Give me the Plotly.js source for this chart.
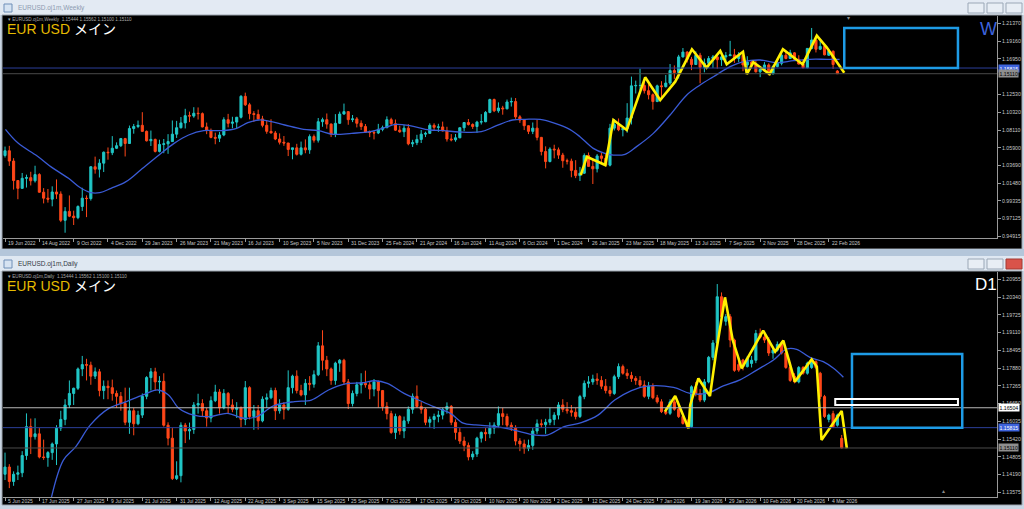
<!DOCTYPE html>
<html><head><meta charset="utf-8">
<script src="https://cdn.plot.ly/plotly-3.0.1.min.js"></script>
<style>html,body{margin:0;padding:0;background:#ccd6e2;overflow:hidden}#chart{width:1024px;height:509px}</style>
</head><body><div id="chart"></div>
<script>
// ---------- Weekly (EURUSD W1), bar 0 = week of 19 Jun 2022 ----------
const weeklyOpen=[1.0495,1.0554,1.0426,1.0184,1.0087,1.0212,1.0220,1.0181,1.0258,1.0039,0.9965,0.9953,1.0042,1.0016,0.9690,0.9801,0.9742,0.9723,0.9862,0.9965,
0.9960,1.0355,1.0325,1.0400,1.0536,1.0530,1.0585,1.0617,1.0705,1.0644,1.0830,1.0855,1.0870,1.0795,1.0678,1.0695,1.0546,1.0633,1.0640,1.0668,
1.0760,1.0840,1.0900,1.0990,1.0985,1.1020,1.1015,1.0850,1.0805,1.0720,1.0710,1.0750,1.0940,1.0895,1.0910,1.0970,1.1230,1.1125,1.1015,1.1005,
1.0950,1.0870,1.0795,1.0775,1.0700,1.0660,1.0650,1.0570,1.0590,1.0510,1.0590,1.0565,1.0730,1.0685,1.0915,1.0940,1.0885,1.0760,1.0895,1.1010,
1.1040,1.0940,1.0950,1.0895,1.0855,1.0785,1.0780,1.0775,1.0820,1.0840,1.0940,1.0890,1.0810,1.0790,1.0835,1.0640,1.0655,1.0695,1.0760,1.0770,
1.0870,1.0845,1.0850,1.0800,1.0700,1.0690,1.0715,1.0840,1.0905,1.0880,1.0855,1.0910,1.0915,1.1030,1.1190,1.1050,1.1085,1.1075,1.1160,1.1165,
1.0975,1.0935,1.0865,1.0795,1.0835,1.0720,1.0545,1.0420,1.0575,1.0565,1.0500,1.0430,1.0425,1.0310,1.0245,1.0275,1.0495,1.0360,1.0330,1.0490,
1.0460,1.0375,1.0835,1.0880,1.0815,1.0830,1.0960,1.1360,1.1365,1.1365,1.1300,1.1250,1.1165,1.1360,1.1350,1.1395,1.1550,1.1525,1.1720,1.1780,
1.1690,1.1625,1.1740,1.1590,1.1640,1.1700,1.1720,1.1685,1.1720,1.1735,1.1745,1.1700,1.1740,1.1620,1.1655,1.1625,1.1535,1.1565,1.1620,1.1510,
1.1600,1.1640,1.1740,1.1700,1.1770,1.1690,1.1631,1.1585,1.1825,1.1930,1.1815,1.1850,1.1740,1.1790,1.15444];
const weeklyHigh=[1.0606,1.0615,1.0462,1.0186,1.0278,1.0257,1.0293,1.0368,1.0275,1.0090,1.0079,1.0112,1.0198,1.0050,0.9854,0.9999,0.9810,0.9876,1.0094,1.0000,
1.0364,1.0481,1.0449,1.0545,1.0595,1.0736,1.0658,1.0713,1.0714,1.0867,1.0887,1.0929,1.1033,1.0806,1.0805,1.0705,1.0691,1.0700,1.0760,1.0930,
1.0925,1.0973,1.1075,1.1040,1.1095,1.1092,1.1030,1.0904,1.0830,1.0779,1.0788,1.0970,1.1012,1.0976,1.0975,1.1245,1.1276,1.1149,1.1046,1.1065,
1.0988,1.0930,1.0945,1.0800,1.0770,1.0737,1.0652,1.0580,1.0640,1.0668,1.0695,1.0757,1.0756,1.0961,1.0965,1.1017,1.0894,1.1009,1.1040,1.1140,
1.1046,1.0998,1.0973,1.0932,1.0886,1.0806,1.0805,1.0888,1.0866,1.0981,1.0964,1.0942,1.0865,1.0876,1.0885,1.0690,1.0752,1.0812,1.0791,1.0895,
1.0895,1.0889,1.0916,1.0852,1.0761,1.0762,1.0844,1.0910,1.0948,1.0895,1.0926,1.1009,1.1047,1.1201,1.1202,1.1155,1.1112,1.1190,1.1214,1.1209,
1.0996,1.0944,1.0869,1.0905,1.0937,1.0726,1.0609,1.0597,1.0629,1.0594,1.0528,1.0456,1.0456,1.0437,1.0353,1.0521,1.0533,1.0442,1.0513,1.0528,
1.0528,1.0888,1.0947,1.0955,1.0860,1.1145,1.1475,1.1425,1.1573,1.1425,1.1380,1.1266,1.1375,1.1418,1.1495,1.1631,1.1614,1.1745,1.1830,1.1790,
1.1720,1.1789,1.1770,1.1699,1.1730,1.1743,1.1743,1.1780,1.1780,1.1919,1.1819,1.1779,1.1745,1.1728,1.1670,1.1669,1.1568,1.1655,1.1640,1.1612,
1.1680,1.1760,1.1800,1.1808,1.1780,1.1740,1.1690,1.1830,1.2079,1.1950,1.1925,1.1870,1.1815,1.1800,1.15562];
const weeklyLow=[1.0470,1.0366,1.0072,0.9952,1.0080,1.0097,1.0123,1.0159,1.0033,0.9900,0.9910,0.9864,0.9956,0.9668,0.9536,0.9730,0.9632,0.9704,0.9807,0.9730,
0.9935,1.0270,1.0222,1.0290,1.0443,1.0500,1.0575,1.0600,1.0483,1.0644,1.0766,1.0835,1.0789,1.0669,1.0613,1.0533,1.0533,1.0524,1.0516,1.0667,
1.0713,1.0830,1.0831,1.0910,1.0964,1.0942,1.0845,1.0760,1.0709,1.0635,1.0662,1.0735,1.0844,1.0834,1.0834,1.0955,1.1110,1.0944,1.0912,1.0941,
1.0845,1.0765,1.0770,1.0686,1.0632,1.0615,1.0488,1.0448,1.0495,1.0495,1.0523,1.0516,1.0655,1.0656,1.0852,1.0828,1.0724,1.0723,1.0888,1.1002,
1.0877,1.0910,1.0844,1.0813,1.0777,1.0723,1.0695,1.0761,1.0796,1.0835,1.0873,1.0802,1.0777,1.0724,1.0622,1.0601,1.0624,1.0650,1.0724,1.0763,
1.0804,1.0788,1.0795,1.0668,1.0671,1.0666,1.0710,1.0797,1.0867,1.0825,1.0777,1.0880,1.0908,1.1020,1.1034,1.1026,1.1002,1.1068,1.1103,1.0950,
1.0900,1.0811,1.0761,1.0761,1.0683,1.0496,1.0335,1.0410,1.0460,1.0453,1.0343,1.0384,1.0225,1.0214,1.0178,1.0266,1.0358,1.0141,1.0285,1.0401,
1.0360,1.0360,1.0806,1.0797,1.0733,1.0778,1.0880,1.1265,1.1306,1.1265,1.1192,1.1065,1.1158,1.1210,1.1340,1.1373,1.1446,1.1452,1.1712,1.1650,
1.1555,1.1620,1.1392,1.1528,1.1585,1.1583,1.1574,1.1608,1.1660,1.1730,1.1646,1.1655,1.1542,1.1557,1.1577,1.1525,1.1468,1.1535,1.1491,1.1500,
1.1590,1.1615,1.1690,1.1695,1.1685,1.1625,1.1579,1.1580,1.1815,1.1775,1.1805,1.1740,1.1735,1.1570,1.15100];
const weeklyClose=[1.0554,1.0426,1.0184,1.0087,1.0212,1.0220,1.0181,1.0258,1.0039,0.9965,0.9953,1.0042,1.0016,0.9690,0.9801,0.9742,0.9723,0.9862,0.9965,0.9960,
1.0355,1.0325,1.0400,1.0536,1.0530,1.0585,1.0617,1.0705,1.0644,1.0830,1.0855,1.0870,1.0795,1.0678,1.0695,1.0546,1.0633,1.0640,1.0668,1.0760,
1.0840,1.0900,1.0990,1.0985,1.1020,1.1015,1.0850,1.0805,1.0720,1.0710,1.0750,1.0940,1.0895,1.0910,1.0970,1.1230,1.1125,1.1015,1.1005,1.0950,
1.0870,1.0795,1.0775,1.0700,1.0660,1.0650,1.0570,1.0590,1.0510,1.0590,1.0565,1.0730,1.0685,1.0915,1.0940,1.0885,1.0760,1.0895,1.1010,1.1040,
1.0940,1.0950,1.0895,1.0855,1.0785,1.0780,1.0775,1.0820,1.0840,1.0940,1.0890,1.0810,1.0790,1.0835,1.0640,1.0655,1.0695,1.0760,1.0770,1.0870,
1.0845,1.0850,1.0800,1.0700,1.0690,1.0715,1.0840,1.0905,1.0880,1.0855,1.0910,1.0915,1.1030,1.1190,1.1050,1.1085,1.1075,1.1160,1.1165,1.0975,
1.0935,1.0865,1.0795,1.0835,1.0720,1.0545,1.0420,1.0575,1.0565,1.0500,1.0430,1.0425,1.0310,1.0245,1.0275,1.0495,1.0360,1.0330,1.0490,1.0460,
1.0375,1.0835,1.0880,1.0815,1.0830,1.0960,1.1360,1.1365,1.1365,1.1300,1.1250,1.1165,1.1360,1.1350,1.1395,1.1550,1.1525,1.1720,1.1780,1.1690,
1.1625,1.1740,1.1590,1.1640,1.1700,1.1720,1.1685,1.1720,1.1735,1.1745,1.1700,1.1740,1.1620,1.1655,1.1625,1.1535,1.1565,1.1620,1.1510,1.1600,
1.1640,1.1740,1.1700,1.1770,1.1690,1.1631,1.1585,1.1825,1.1930,1.1815,1.1850,1.1745,1.1790,1.1625,1.15110];
const weeklyTickLabels=["19 Jun 2022","14 Aug 2022","9 Oct 2022","4 Dec 2022","29 Jan 2023","26 Mar 2023","21 May 2023","16 Jul 2023","10 Sep 2023","5 Nov 2023","31 Dec 2023","25 Feb 2024","21 Apr 2024","16 Jun 2024","11 Aug 2024","6 Oct 2024","1 Dec 2024","26 Jan 2025","23 Mar 2025","18 May 2025","13 Jul 2025","7 Sep 2025","2 Nov 2025","28 Dec 2025","22 Feb 2026"];
const weeklyPriceTicks=[1.21370,1.19160,1.16950,1.12530,1.10320,1.08110,1.05900,1.03690,1.01480,0.99335,0.97125,0.94915];
const weeklyMAIndex=[0.1,3.1,7.5,10.9,14.8,17.4,20,22.1,24.7,28.2,31.6,35.9,39.4,42.8,46.3,50.6,54,56.6,59.2,61.8,65.2,69.6,73,76.5,80.8,85.1,88.5,91.1,94.6,98.9,102.3,105.8,111,114.4,118.3,121.3,124.7,128.2,131.6,134,137.1,139.8,141.8,144.5,147.2,151.1,155,158.9,162,165.1,169,172.1,176,179.9,183.8,187.6,191.5,194.5];
const weeklyMAValue=[1.0820,1.0646,1.0489,1.0348,1.0212,1.0100,1.0034,1.0034,1.0087,1.0170,1.0315,1.0501,1.0646,1.0750,1.0804,1.0804,1.0833,1.0903,1.0936,1.0920,1.0874,1.0820,1.0804,1.0758,1.0771,1.0791,1.0841,1.0882,1.0862,1.0812,1.0804,1.0787,1.0791,1.0862,1.0936,1.0944,1.0944,1.0895,1.0820,1.0729,1.0584,1.0522,1.0501,1.0510,1.0605,1.0770,1.0998,1.1247,1.1371,1.1474,1.1598,1.1660,1.1681,1.1648,1.1673,1.1690,1.1690,1.1690];
const weeklyZigIndex=[134.2,135.6,139.9,141.8,144.9,149.2,152.7,156.2,160.1,163.5,166.7,168.2,172,172.9,174.4,178.2,181.3,185.9,189.2,191.5,195.6];
const weeklyZigPrice=[1.0253,1.0480,1.0377,1.0936,1.0812,1.1466,1.1184,1.1412,1.1814,1.1586,1.1793,1.1628,1.1784,1.1507,1.1653,1.1507,1.1814,1.1628,1.1983,1.1839,1.1524];

// ---------- Daily (EURUSD D1), bar 0 = 5 Jun 2025 ----------
const dailyOpen=[1.1420,1.1445,1.1395,1.1420,1.1425,1.1485,1.1585,1.1550,1.1560,1.1480,1.1478,1.1495,1.1525,1.1580,1.1610,1.1660,1.1700,1.1718,1.1785,1.1800,
1.1798,1.1760,1.1775,1.1710,1.1725,1.1720,1.1700,1.1690,1.1665,1.1600,1.1640,1.1595,1.1625,1.1690,1.1755,1.1775,1.1740,1.1742,1.1590,1.1545,
1.1405,1.1415,1.1590,1.1570,1.1575,1.1660,1.1665,1.1640,1.1615,1.1675,1.1705,1.1650,1.1700,1.1660,1.1645,1.1650,1.1610,1.1720,1.1620,1.1640,
1.1605,1.1680,1.1685,1.1710,1.1640,1.1660,1.1645,1.1720,1.1760,1.1710,1.1695,1.1735,1.1732,1.1765,1.1865,1.1815,1.1785,1.1745,1.1805,1.1815,
1.1740,1.1665,1.1700,1.1730,1.1735,1.1730,1.1715,1.1740,1.1710,1.1655,1.1630,1.1565,1.1620,1.1570,1.1605,1.1645,1.1690,1.1655,1.1645,1.1600,
1.1610,1.1620,1.1625,1.1645,1.1655,1.1600,1.1565,1.1535,1.1520,1.1480,1.1490,1.1545,1.1565,1.1560,1.1580,1.1590,1.1630,1.1620,1.1590,1.1580,
1.1535,1.1525,1.1510,1.1520,1.1570,1.1595,1.1592,1.1600,1.1610,1.1625,1.1660,1.1645,1.1640,1.1635,1.1620,1.1689,1.1735,1.1740,1.1750,1.1745,
1.1725,1.1710,1.1700,1.1758,1.1793,1.1770,1.1762,1.1752,1.1745,1.1729,1.1690,1.1725,1.1685,1.1671,1.1637,1.1631,1.1671,1.1645,1.1620,1.1596,
1.1585,1.1723,1.1700,1.1677,1.1740,1.1825,1.1875,1.2035,1.1950,1.1966,1.1885,1.1800,1.1816,1.1793,1.1804,1.1815,1.1908,1.1895,1.1885,1.1840,
1.1850,1.1870,1.1840,1.1790,1.1760,1.1740,1.1790,1.1770,1.1790,1.1810,1.1770,1.1689,1.1610,1.1630,1.1590,1.15444];
const dailyHigh=[1.1495,1.1455,1.1430,1.1450,1.1500,1.1631,1.1613,1.1614,1.1580,1.1540,1.1500,1.1530,1.1590,1.1640,1.1680,1.1745,1.1720,1.1790,1.1830,1.1820,
1.1810,1.1790,1.1785,1.1745,1.1745,1.1748,1.1710,1.1705,1.1720,1.1720,1.1650,1.1640,1.1700,1.1760,1.1788,1.1789,1.1760,1.1770,1.1600,1.1580,
1.1465,1.1600,1.1598,1.1599,1.1670,1.1699,1.1680,1.1650,1.1690,1.1730,1.1715,1.1715,1.1705,1.1680,1.1670,1.1655,1.1743,1.1725,1.1660,1.1660,
1.1690,1.1700,1.1720,1.1720,1.1680,1.1670,1.1780,1.1765,1.1780,1.1730,1.1750,1.1760,1.1780,1.1878,1.1919,1.1830,1.1790,1.1810,1.1819,1.1820,
1.1750,1.1710,1.1740,1.1770,1.1779,1.1740,1.1750,1.1745,1.1712,1.1670,1.1640,1.1630,1.1625,1.1620,1.1655,1.1700,1.1728,1.1670,1.1650,1.1620,
1.1630,1.1640,1.1650,1.1669,1.1660,1.1610,1.1580,1.1550,1.1530,1.1500,1.1550,1.1568,1.1580,1.1600,1.1600,1.1655,1.1650,1.1630,1.1600,1.1590,
1.1545,1.1540,1.1540,1.1580,1.1610,1.1610,1.1612,1.1650,1.1635,1.1670,1.1680,1.1670,1.1660,1.1650,1.1695,1.1745,1.1760,1.1765,1.1770,1.1760,
1.1750,1.1725,1.1765,1.1804,1.1800,1.1785,1.1775,1.1760,1.1760,1.1745,1.1740,1.1735,1.1695,1.1680,1.1650,1.1680,1.1690,1.1655,1.1630,1.1610,
1.1728,1.1740,1.1715,1.1750,1.1830,1.1885,1.2079,1.2050,1.1975,1.1975,1.1890,1.1815,1.1820,1.1830,1.1830,1.1920,1.1925,1.1910,1.1895,1.1860,
1.1880,1.1880,1.1845,1.1795,1.1770,1.1795,1.1795,1.1810,1.1815,1.1815,1.1775,1.1695,1.1630,1.1640,1.1630,1.15562];
const dailyLow=[1.1400,1.1372,1.1380,1.1400,1.1410,1.1470,1.1490,1.1540,1.1475,1.1470,1.1446,1.1470,1.1452,1.1570,1.1590,1.1650,1.1660,1.1712,1.1760,1.1745,
1.1730,1.1750,1.1690,1.1680,1.1680,1.1675,1.1650,1.1640,1.1590,1.1560,1.1555,1.1590,1.1615,1.1680,1.1710,1.1710,1.1700,1.1585,1.1520,1.1400,
1.1400,1.1392,1.1528,1.1540,1.1560,1.1630,1.1620,1.1585,1.1600,1.1670,1.1630,1.1645,1.1630,1.1635,1.1615,1.1583,1.1590,1.1610,1.1574,1.1575,
1.1600,1.1650,1.1680,1.1608,1.1630,1.1610,1.1640,1.1700,1.1700,1.1690,1.1660,1.1710,1.1720,1.1760,1.1780,1.1760,1.1730,1.1730,1.1775,1.1730,
1.1646,1.1655,1.1690,1.1700,1.1720,1.1680,1.1690,1.1650,1.1640,1.1610,1.1560,1.1542,1.1557,1.1545,1.1595,1.1630,1.1650,1.1630,1.1590,1.1580,
1.1577,1.1600,1.1610,1.1630,1.1590,1.1540,1.1525,1.1500,1.1468,1.1470,1.1480,1.1530,1.1535,1.1545,1.1560,1.1580,1.1590,1.1580,1.1570,1.1520,
1.1500,1.1491,1.1500,1.1505,1.1560,1.1580,1.1560,1.1590,1.1590,1.1610,1.1635,1.1630,1.1620,1.1610,1.1615,1.1680,1.1720,1.1730,1.1730,1.1715,
1.1700,1.1690,1.1695,1.1750,1.1765,1.1750,1.1740,1.1730,1.1720,1.1685,1.1680,1.1680,1.1665,1.1632,1.1625,1.1625,1.1640,1.1615,1.1592,1.1579,
1.1580,1.1690,1.1670,1.1670,1.1735,1.1815,1.1870,1.1960,1.1935,1.1860,1.1775,1.1775,1.1780,1.1790,1.1790,1.1805,1.1890,1.1875,1.1830,1.1820,
1.1845,1.1835,1.1785,1.1740,1.1735,1.1735,1.1765,1.1765,1.1785,1.1785,1.1680,1.1615,1.1600,1.1580,1.1585,1.15100];
const dailyClose=[1.1445,1.1395,1.1420,1.1425,1.1485,1.1585,1.1550,1.1560,1.1480,1.1478,1.1495,1.1525,1.1580,1.1610,1.1660,1.1700,1.1718,1.1785,1.1800,1.1798,
1.1760,1.1775,1.1710,1.1725,1.1720,1.1700,1.1690,1.1665,1.1600,1.1640,1.1595,1.1625,1.1690,1.1755,1.1775,1.1740,1.1742,1.1590,1.1545,1.1405,
1.1415,1.1590,1.1570,1.1575,1.1660,1.1665,1.1640,1.1615,1.1675,1.1705,1.1650,1.1700,1.1660,1.1645,1.1650,1.1610,1.1720,1.1620,1.1640,1.1605,
1.1680,1.1685,1.1710,1.1640,1.1660,1.1645,1.1720,1.1760,1.1710,1.1695,1.1735,1.1732,1.1765,1.1865,1.1815,1.1785,1.1745,1.1805,1.1815,1.1740,
1.1665,1.1700,1.1730,1.1735,1.1730,1.1715,1.1740,1.1710,1.1655,1.1630,1.1565,1.1620,1.1570,1.1605,1.1645,1.1690,1.1655,1.1645,1.1600,1.1610,
1.1620,1.1625,1.1645,1.1655,1.1600,1.1565,1.1535,1.1520,1.1480,1.1490,1.1545,1.1565,1.1560,1.1580,1.1590,1.1630,1.1620,1.1590,1.1580,1.1535,
1.1525,1.1510,1.1520,1.1570,1.1595,1.1592,1.1600,1.1610,1.1625,1.1660,1.1645,1.1640,1.1635,1.1620,1.1689,1.1735,1.1740,1.1750,1.1745,1.1725,
1.1710,1.1700,1.1758,1.1793,1.1770,1.1762,1.1752,1.1745,1.1729,1.1690,1.1725,1.1685,1.1671,1.1637,1.1631,1.1671,1.1645,1.1620,1.1596,1.1585,
1.1723,1.1700,1.1677,1.1740,1.1825,1.1875,1.2035,1.1966,1.1966,1.1885,1.1780,1.1781,1.1793,1.1822,1.1815,1.1908,1.1895,1.1885,1.1840,1.1850,
1.1870,1.1840,1.1790,1.1745,1.1740,1.1790,1.1770,1.1805,1.1810,1.1790,1.1689,1.1620,1.1625,1.1585,1.1625,1.15110];
const dailyTickLabels=["5 Jun 2025","17 Jun 2025","27 Jun 2025","9 Jul 2025","21 Jul 2025","31 Jul 2025","12 Aug 2025","22 Aug 2025","3 Sep 2025","15 Sep 2025","25 Sep 2025","7 Oct 2025","17 Oct 2025","29 Oct 2025","10 Nov 2025","20 Nov 2025","2 Dec 2025","12 Dec 2025","24 Dec 2025","7 Jan 2026","19 Jan 2026","29 Jan 2026","10 Feb 2026","20 Feb 2026","4 Mar 2026"];
const dailyPriceTicks=[1.20955,1.20340,1.19725,1.19110,1.18495,1.17880,1.17265,1.16650,1.16035,1.15420,1.14805,1.14190,1.13575];
const dailyMAIndex=[10.5,13.6,16.5,19.9,24.3,28.3,32.2,35.6,38.1,40.5,44,47.9,51.8,55.7,58.7,62.6,67.5,71.4,75.4,79.3,83.2,86.2,89.1,93,96,99.9,103.8,106.8,109.7,114.6,118.6,123.5,126.4,130.3,134.3,138.2,142.1,146,150,155.8,159.7,163.5,167.4,171.3,175.2,179.1,182.2,184.5,187.6,190.7,193.1,195.4];
const dailyMAValue=[1.1320,1.1469,1.1516,1.1591,1.1649,1.1672,1.1695,1.1712,1.1695,1.1649,1.1625,1.1620,1.1631,1.1614,1.1620,1.1657,1.1672,1.1677,1.1712,1.1733,1.1737,1.1744,1.1735,1.1700,1.1680,1.1654,1.1631,1.1597,1.1591,1.1585,1.1573,1.1556,1.1556,1.1585,1.1599,1.1625,1.1677,1.1710,1.1726,1.1721,1.1700,1.1700,1.1726,1.1747,1.1781,1.1816,1.1854,1.1853,1.1825,1.1810,1.1787,1.1756];
const dailyZigIndex=[153.8,156.2,159.3,159.7,161.6,164.3,165.7,167.8,169.6,171.7,176.7,179.5,181.4,184.1,188,189.2,190.3,195,196.2];
const dailyZigPrice=[1.1637,1.1691,1.1579,1.1660,1.1752,1.1691,1.1839,1.2033,1.1885,1.1787,1.1918,1.1845,1.1883,1.1741,1.1818,1.1793,1.1539,1.1639,1.1510];

// horizontal levels and drawn boxes (index / price coordinates)
const weeklyLevels={blue:1.15815,bid:1.15110};
const dailyLevels={white:1.16504,blue:1.15815,bid:1.15110};
const weeklyBox={i0:195.6,i1:222.1,p0:1.15815,p1:1.2079};
const dailyBox={i0:197.4,i1:223.1,p0:1.15815,p1:1.1837};
const dailyWhiteBox={i0:193.5,i1:222.1,p0:1.1660,p1:1.1681};
const lastBar=["1.15444","1.15562","1.15100","1.15110"];

// ---------- drawing ----------
const W=1024,H=509;
const px=x=>x/W, py=y=>1-y/H;
const idx=n=>Array.from({length:n},(_,i)=>i);
const CYAN='#20c6c6', RED='#ff4719', AXC='#9a9a9a', TXT='#c8c8c8';
const FONT='Liberation Sans, Arial, sans-serif';

function candle(o,h,l,c,xa,ya){
  return {type:'candlestick',x:idx(o.length),open:o,high:h,low:l,close:c,xaxis:xa,yaxis:ya,
    increasing:{line:{color:CYAN,width:1},fillcolor:CYAN},decreasing:{line:{color:RED,width:1},fillcolor:RED},
    whiskerwidth:0,hoverinfo:'skip',showlegend:false};
}
const data=[
  {type:'scatter',mode:'lines',x:weeklyMAIndex,y:weeklyMAValue,xaxis:'x',yaxis:'y',line:{color:'#3a5bd6',width:1.3,shape:'spline'},hoverinfo:'skip',showlegend:false},
  candle(weeklyOpen,weeklyHigh,weeklyLow,weeklyClose,'x','y'),
  {type:'scatter',mode:'lines',x:weeklyZigIndex,y:weeklyZigPrice,xaxis:'x',yaxis:'y',line:{color:'#fff000',width:2.6},hoverinfo:'skip',showlegend:false},
  {type:'scatter',mode:'lines',x:dailyMAIndex,y:dailyMAValue,xaxis:'x2',yaxis:'y2',line:{color:'#3a5bd6',width:1.3,shape:'spline'},hoverinfo:'skip',showlegend:false},
  candle(dailyOpen,dailyHigh,dailyLow,dailyClose,'x2','y2'),
  {type:'scatter',mode:'lines',x:dailyZigIndex,y:dailyZigPrice,xaxis:'x2',yaxis:'y2',line:{color:'#fff000',width:2.6},hoverinfo:'skip',showlegend:false}
];

function xaxisDef(labelsLen){
  return {domain:[px(3),px(997)],range:[-0.47,231.2],showgrid:false,zeroline:false,showline:true,linecolor:AXC,linewidth:1,
    ticks:'outside',ticklen:3,tickcolor:AXC,tickvals:idx(labelsLen).map(k=>k*8),showticklabels:false,rangeslider:{visible:false},fixedrange:true};
}
function yaxisDef(dom,rng,ticks,anchor){
  return {domain:dom,range:rng,side:'right',anchor:anchor,showgrid:false,zeroline:false,showline:true,linecolor:AXC,linewidth:1,
    ticks:'outside',ticklen:3,tickcolor:AXC,tickvals:ticks,ticktext:ticks.map(v=>v.toFixed(5)),
    tickfont:{family:FONT,size:5.2,color:TXT},fixedrange:true};
}

const shapes=[
  // window chrome
  {type:'rect',xref:'paper',yref:'paper',x0:0,x1:1,y0:py(15),y1:1,fillcolor:'#e3eaf3',line:{width:0},layer:'below'},
  {type:'rect',xref:'paper',yref:'paper',x0:px(2),x1:px(1022),y0:py(249),y1:py(15),fillcolor:'#000',line:{color:'#9aa3ad',width:1},layer:'below'},
  {type:'rect',xref:'paper',yref:'paper',x0:0,x1:1,y0:py(256),y1:py(249),fillcolor:'#b4c6da',line:{width:0},layer:'below'},
  {type:'rect',xref:'paper',yref:'paper',x0:0,x1:1,y0:py(271),y1:py(256),fillcolor:'#dfe8f2',line:{width:0},layer:'below'},
  {type:'rect',xref:'paper',yref:'paper',x0:px(2),x1:px(1022),y0:py(505),y1:py(271),fillcolor:'#000',line:{color:'#9aa3ad',width:1},layer:'below'},
  // title bar buttons
  {type:'rect',xref:'paper',yref:'paper',x0:px(968),x1:px(984),y0:py(13),y1:py(3),fillcolor:'#e8eef5',line:{color:'#9aa7b6',width:1}},
  {type:'rect',xref:'paper',yref:'paper',x0:px(987),x1:px(1003),y0:py(13),y1:py(3),fillcolor:'#e8eef5',line:{color:'#9aa7b6',width:1}},
  {type:'rect',xref:'paper',yref:'paper',x0:px(1006),x1:px(1022),y0:py(13),y1:py(3),fillcolor:'#e8eef5',line:{color:'#9aa7b6',width:1}},
  {type:'rect',xref:'paper',yref:'paper',x0:px(968),x1:px(984),y0:py(269),y1:py(259),fillcolor:'#e8eef5',line:{color:'#9aa7b6',width:1}},
  {type:'rect',xref:'paper',yref:'paper',x0:px(987),x1:px(1003),y0:py(269),y1:py(259),fillcolor:'#e8eef5',line:{color:'#9aa7b6',width:1}},
  {type:'rect',xref:'paper',yref:'paper',x0:px(1006),x1:px(1022),y0:py(269),y1:py(259),fillcolor:'#d9534a',line:{color:'#a33a33',width:1}},
  // window icons
  {type:'rect',xref:'paper',yref:'paper',x0:px(4),x1:px(12),y0:py(12),y1:py(4),fillcolor:'#d6e3f2',line:{color:'#6f8fb8',width:1}},
  {type:'rect',xref:'paper',yref:'paper',x0:px(4),x1:px(12),y0:py(268),y1:py(260),fillcolor:'#d6e3f2',line:{color:'#6f8fb8',width:1}},
  // weekly levels
  {type:'line',xref:'x domain',yref:'y',x0:0,x1:1,y0:weeklyLevels.blue,y1:weeklyLevels.blue,line:{color:'#2c3f9a',width:1}},
  {type:'line',xref:'x domain',yref:'y',x0:0,x1:1,y0:weeklyLevels.bid,y1:weeklyLevels.bid,line:{color:'#4a4a4a',width:1}},
  {type:'rect',xref:'x',yref:'y',x0:weeklyBox.i0,x1:weeklyBox.i1,y0:weeklyBox.p0,y1:weeklyBox.p1,line:{color:'#1e9be6',width:2.5}},
  // daily levels
  {type:'line',xref:'x2 domain',yref:'y2',x0:0,x1:1,y0:dailyLevels.white,y1:dailyLevels.white,line:{color:'#b8b8b8',width:1}},
  {type:'line',xref:'x2 domain',yref:'y2',x0:0,x1:1,y0:dailyLevels.blue,y1:dailyLevels.blue,line:{color:'#2c3f9a',width:1}},
  {type:'line',xref:'x2 domain',yref:'y2',x0:0,x1:1,y0:dailyLevels.bid,y1:dailyLevels.bid,line:{color:'#4a4a4a',width:1}},
  {type:'rect',xref:'x2',yref:'y2',x0:dailyBox.i0,x1:dailyBox.i1,y0:dailyBox.p0,y1:dailyBox.p1,line:{color:'#1e9be6',width:2.5}},
  {type:'rect',xref:'x2',yref:'y2',x0:dailyWhiteBox.i0,x1:dailyWhiteBox.i1,y0:dailyWhiteBox.p0,y1:dailyWhiteBox.p1,line:{color:'#ffffff',width:2}}
];

const annotations=[];
function txt(x,y,text,size,color,opts){
  annotations.push(Object.assign({xref:'paper',yref:'paper',x:px(x),y:py(y),text:text,showarrow:false,xanchor:'left',yanchor:'middle',
    font:{family:FONT,size:size,color:color}},opts||{}));
}
txt(16,7.5,'EURUSD.oj1m,Weekly',6.5,'#8d9bb0');
txt(16,263.5,'EURUSD.oj1m,Daily',6.5,'#333a44');
txt(6,20,'▾ EURUSD.oj1m,Weekly  '+lastBar.join(' '),4.6,'#a8a8a8');
txt(6,276,'▾ EURUSD.oj1m,Daily  '+lastBar.join(' '),4.6,'#a8a8a8');
const title='<span style="color:#e6bb00">EUR USD</span> <span style="color:#ffffff">メイン</span>';
txt(5,29,title,14,'#e6bb00',{font:{family:'Liberation Sans, Noto Sans CJK JP, sans-serif',size:14,color:'#e6bb00'}});
txt(5,286,title,14,'#e6bb00',{font:{family:'Liberation Sans, Noto Sans CJK JP, sans-serif',size:14,color:'#e6bb00'}});
txt(978,29,'W',18,'#3d63dc');
txt(973,284,'D1',17,'#ffffff');
txt(845,18,'▾',6,'#8a8a8a');
txt(940,491,'▴',6,'#8a8a8a');
weeklyTickLabels.forEach((t,k)=>annotations.push({xref:'x',yref:'paper',x:k*8,y:py(242.5),text:t,showarrow:false,xanchor:'left',yanchor:'middle',xshift:1,font:{family:FONT,size:5,color:TXT}}));
dailyTickLabels.forEach((t,k)=>annotations.push({xref:'x2',yref:'paper',x:k*8,y:py(501),text:t,showarrow:false,xanchor:'left',yanchor:'middle',xshift:1,font:{family:FONT,size:5,color:TXT}}));
function tag(yref,price,bg,fg){
  annotations.push({xref:'paper',yref:yref,x:px(998),y:price,text:price.toFixed(5),showarrow:false,xanchor:'left',yanchor:'middle',
    bgcolor:bg,borderpad:0.5,font:{family:FONT,size:5.2,color:fg}});
}
tag('y',weeklyLevels.blue,'#3d63dc','#ffffff');
tag('y',weeklyLevels.bid,'#8e8e8e','#000000');
tag('y2',dailyLevels.white,'#ffffff','#000000');
tag('y2',dailyLevels.blue,'#3d63dc','#ffffff');
tag('y2',dailyLevels.bid,'#8e8e8e','#000000');

const layout={width:W,height:H,margin:{l:0,r:0,t:0,b:0},paper_bgcolor:'#c9d5e3',plot_bgcolor:'#000',showlegend:false,
  boxgap:0.3,
  xaxis:xaxisDef(weeklyTickLabels.length),
  yaxis:yaxisDef([py(238),py(16)],[0.94705,1.22277],weeklyPriceTicks,'x'),
  xaxis2:Object.assign(xaxisDef(dailyTickLabels.length),{anchor:'y2'}),
  yaxis2:yaxisDef([py(497),py(272)],[1.13412,1.21208],dailyPriceTicks,'x2'),
  shapes:shapes,annotations:annotations};
layout.xaxis.anchor='y';
Plotly.newPlot('chart',data,layout,{staticPlot:true,displayModeBar:false});
</script></body></html>
